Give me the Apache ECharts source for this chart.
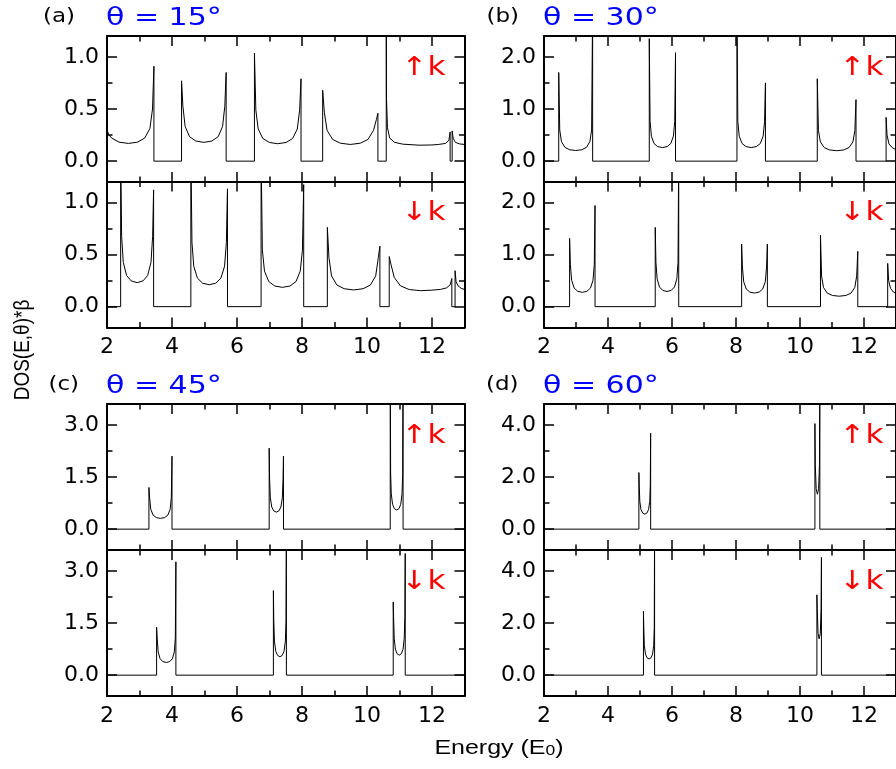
<!DOCTYPE html>
<html>
<head>
<meta charset="utf-8">
<script src="https://cdn.jsdelivr.net/npm/echarts@6/dist/echarts.min.js"></script>
<style>
html,body{margin:0;padding:0;background:#fff;}
#chart{width:896px;height:769px;}
</style>
</head>
<body>
<div id="chart"></div>
<script>
// ---- data (Energy in E0, DOS*beta) ----
const xMajorTicks = [2, 4, 6, 8, 10, 12];
const xMinorTicks = [3, 5, 7, 9, 11];
const panelLetters = ['(a)', '(b)', '(c)', '(d)'];
const panelAngles = ['θ = 15°', 'θ = 30°', 'θ = 45°', 'θ = 60°'];
const yRanges = [[-0.2, 1.2], [-0.4, 2.4], [-0.6, 3.6], [-0.8, 4.8]];
const yMajorTicks = [[0, 0.5, 1.0], [0, 1.0, 2.0], [0, 1.5, 3.0], [0, 2.0, 4.0]];
const yMinorTicks = [[0.25, 0.75], [0.5, 1.5], [0.75, 2.25], [1.0, 3.0]];

const dos15Up = [[2.0,0.30],[2.06,0.25],[2.15,0.22],[2.37,0.182],[2.66,0.17],[2.94,0.182],[3.16,0.221],[3.32,0.313],[3.40,0.50],[3.444,0.91],[3.444,0],
[4.294,0],[4.294,0.77],[4.335,0.527],[4.404,0.332],[4.541,0.234],[4.733,0.193],[4.98,0.18],[5.227,0.193],[5.419,0.234],[5.556,0.332],[5.625,0.527],[5.666,0.85],[5.666,0],
[6.537,0],[6.537,1.035],[6.58,0.489],[6.652,0.308],[6.795,0.217],[6.996,0.179],[7.254,0.167],[7.511,0.179],[7.712,0.217],[7.855,0.308],[7.927,0.489],[7.97,0.79],[7.97,0],
[8.636,0],[8.636,0.68],[8.687,0.469],[8.772,0.295],[8.942,0.208],[9.18,0.172],[9.486,0.16],[9.792,0.172],[10.03,0.208],[10.2,0.295],[10.29,0.40],[10.336,0.46],[10.336,0],
[10.592,0],[10.592,1.5],[10.60,0.6],[10.63,0.32],[10.70,0.22],[10.85,0.18],[11.1,0.163],[11.6,0.153],[12.0,0.155],[12.2,0.16],[12.42,0.17],[12.52,0.2],[12.558,0.28],[12.558,0],
[12.62,0],[12.62,0.29],[12.65,0.22],[12.72,0.18],[12.85,0.165],[13.0,0.16]];

const dos15Down = [[2.0,0],[2.42,0],[2.42,1.5],[2.45,0.674],[2.501,0.424],[2.603,0.299],[2.744,0.247],[2.927,0.23],[3.11,0.247],[3.251,0.299],[3.353,0.424],[3.404,0.674],[3.434,1.12],[3.434,0],
[4.58,0],[4.58,1.5],[4.614,0.615],[4.67,0.387],[4.783,0.273],[4.941,0.225],[5.144,0.21],[5.346,0.225],[5.504,0.273],[5.617,0.387],[5.673,0.615],[5.707,1.13],[5.707,0],
[6.741,0],[6.741,1.5],[6.78,0.542],[6.846,0.341],[6.977,0.241],[7.161,0.198],[7.397,0.185],[7.632,0.198],[7.816,0.241],[7.946,0.341],[8.013,0.542],[8.052,1.17],[8.052,0],
[8.78,0],[8.78,0.76],[8.829,0.469],[8.909,0.295],[9.071,0.208],[9.297,0.172],[9.589,0.16],[9.88,0.172],[10.106,0.208],[10.268,0.295],[10.348,0.469],[10.397,0.58],[10.397,0],
[10.684,0],[10.684,0.48],[10.742,0.40],[10.838,0.28],[11.031,0.199],[11.30,0.164],[11.647,0.153],[11.994,0.158],[12.26,0.165],[12.45,0.18],[12.56,0.21],[12.61,0.27],[12.61,0],
[12.71,0],[12.71,0.345],[12.74,0.24],[12.8,0.2],[12.9,0.175],[13.0,0.165]];

const dos30Up = [[2.0,0],[2.46,0],[2.46,1.70],[2.492,0.598],[2.545,0.376],[2.651,0.265],[2.799,0.219],[2.99,0.204],[3.181,0.219],[3.329,0.265],[3.435,0.376],[3.488,0.598],[3.52,3.0],[3.52,0],
[5.29,0],[5.29,2.35],[5.315,0.762],[5.356,0.479],[5.438,0.338],[5.552,0.279],[5.70,0.26],[5.848,0.279],[5.962,0.338],[6.044,0.479],[6.085,0.762],[6.11,2.08],[6.11,0],
[8.03,0],[8.03,3.0],[8.057,0.762],[8.101,0.479],[8.19,0.338],[8.315,0.279],[8.475,0.26],[8.635,0.279],[8.76,0.338],[8.849,0.479],[8.893,0.762],[8.92,1.50],[8.92,0],
[10.54,0],[10.54,1.58],[10.576,0.586],[10.637,0.369],[10.758,0.26],[10.927,0.214],[11.145,0.2],[11.363,0.214],[11.532,0.26],[11.653,0.369],[11.714,0.586],[11.75,1.18],[11.75,0],
[12.69,0],[12.69,0.84],[12.72,0.5],[12.78,0.33],[12.88,0.26],[13.0,0.22]];

const dos30Down = [[2.0,0],[2.80,0],[2.80,1.31],[2.824,0.803],[2.864,0.505],[2.943,0.356],[3.054,0.294],[3.198,0.274],[3.341,0.294],[3.452,0.356],[3.531,0.505],[3.571,0.803],[3.595,1.94],[3.595,0],
[5.476,0],[5.476,1.52],[5.498,0.85],[5.535,0.534],[5.608,0.377],[5.711,0.311],[5.843,0.29],[5.975,0.311],[6.078,0.377],[6.151,0.534],[6.188,0.85],[6.21,3.0],[6.21,0],
[8.176,0],[8.176,1.20],[8.2,0.762],[8.24,0.479],[8.321,0.338],[8.433,0.279],[8.578,0.26],[8.723,0.279],[8.835,0.338],[8.916,0.479],[8.956,0.762],[8.98,1.20],[8.98,0],
[10.64,0],[10.64,1.37],[10.675,0.586],[10.733,0.369],[10.85,0.26],[11.013,0.214],[11.223,0.2],[11.433,0.214],[11.596,0.26],[11.713,0.369],[11.771,0.586],[11.806,1.06],[11.806,0],
[12.74,0],[12.74,0.83],[12.77,0.5],[12.83,0.35],[12.92,0.28],[13.0,0.25]];

const dos45Up = [[2.0,0],[3.29,0],[3.29,1.20],[3.311,0.908],[3.347,0.571],[3.418,0.403],[3.517,0.332],[3.645,0.31],[3.773,0.332],[3.872,0.403],[3.943,0.571],[3.979,0.908],[4.0,2.10],[4.0,0],
[6.99,0],[6.99,2.33],[7.003,1.436],[7.025,0.903],[7.069,0.637],[7.131,0.525],[7.21,0.49],[7.289,0.525],[7.351,0.637],[7.395,0.903],[7.417,1.436],[7.43,2.10],[7.43,0],
[10.715,0],[10.715,5.0],[10.727,1.612],[10.747,1.014],[10.786,0.716],[10.841,0.59],[10.913,0.55],[10.984,0.59],[11.039,0.716],[11.078,1.014],[11.098,1.612],[11.11,5.0],[11.11,0],[13.0,0]];

const dos45Down = [[2.0,0],[3.526,0],[3.526,1.38],[3.544,1.067],[3.574,0.671],[3.633,0.474],[3.716,0.39],[3.823,0.364],[3.93,0.39],[4.013,0.474],[4.072,0.671],[4.102,1.067],[4.12,3.26],[4.12,0],
[7.12,0],[7.12,2.43],[7.132,1.553],[7.152,0.977],[7.192,0.69],[7.248,0.568],[7.32,0.53],[7.392,0.568],[7.448,0.69],[7.488,0.977],[7.508,1.553],[7.52,5.0],[7.52,0],
[10.807,0],[10.807,2.10],[10.818,1.685],[10.837,1.06],[10.873,0.748],[10.925,0.616],[10.992,0.575],[11.058,0.616],[11.11,0.748],[11.146,1.06],[11.165,1.685],[11.176,3.5],[11.176,0],[13.0,0]];

const dos60Up = [[2.0,0],[4.965,0],[4.965,2.17],[4.976,1.685],[4.994,1.06],[5.031,0.748],[5.083,0.616],[5.149,0.575],[5.215,0.616],[5.267,0.748],[5.304,1.06],[5.322,1.685],[5.333,3.68],[5.333,0],
[10.466,0],[10.466,4.05],[10.478,2.47],[10.505,1.546],[10.543,1.34],[10.582,1.546],[10.608,2.47],[10.62,6.0],[10.62,0],[13.0,0]];

const dos60Down = [[2.0,0],[5.108,0],[5.108,2.45],[5.118,1.817],[5.136,1.143],[5.171,0.807],[5.219,0.665],[5.282,0.62],[5.345,0.665],[5.393,0.807],[5.428,1.143],[5.446,1.817],[5.456,6.0],[5.456,0],
[10.528,0],[10.528,3.08],[10.539,2.56],[10.564,1.605],[10.599,1.39],[10.635,1.605],[10.659,2.56],[10.67,4.52],[10.67,0],[13.0,0]];

const curves = [dos15Up, dos15Down, dos30Up, dos30Down, dos45Up, dos45Down, dos60Up, dos60Down];
const spinLabels = ['↑k', '↓k'];

// ---- layout ----
const colLeft = [107, 544];
const colWidth = [357.5, 358.5];
const rowTops = [[36, 181.5], [404, 550]];
const gridH = 146;
const SX = 1.2; // horizontal stretch of the reference lettering

const grids = [], xAxes = [], yAxes = [], series = [], graphics = [];
const TICKW = 1.5, LINEW = 2;

function xAxis(gi, pos, ticks, len, showLine, showLabel) {
  return {
    type: 'value', gridIndex: gi, min: 2, max: 13, position: pos,
    axisLine: { show: showLine, onZero: false, lineStyle: { color: '#000', width: LINEW } },
    axisTick: { show: true, inside: true, length: len, customValues: ticks, lineStyle: { color: '#000', width: TICKW } },
    axisLabel: { show: showLabel, customValues: ticks, margin: 9, color: '#000', fontSize: 22, fontFamily: 'DejaVu Sans', formatter: v => String(v) },
    splitLine: { show: false }
  };
}
function yAxis(gi, pos, range, ticks, len, showLine, showLabel) {
  return {
    type: 'value', gridIndex: gi, min: range[0], max: range[1], position: pos,
    axisLine: { show: showLine, onZero: false, lineStyle: { color: '#000', width: LINEW } },
    axisTick: { show: true, inside: true, length: len, customValues: ticks, lineStyle: { color: '#000', width: TICKW } },
    axisLabel: { show: showLabel, customValues: ticks, margin: 8, color: '#000', fontSize: 22, fontFamily: 'DejaVu Sans', formatter: v => v.toFixed(1) },
    splitLine: { show: false }
  };
}

for (let p = 0; p < 4; p++) {
  const col = p % 2, row = Math.floor(p / 2);
  for (let s = 0; s < 2; s++) {
    const gi = p * 2 + s;
    const top = rowTops[row][s];
    grids.push({ left: colLeft[col], top: top, width: colWidth[col], height: gridH });
    xAxes.push(xAxis(gi, 'bottom', xMajorTicks, 10, true, s === 1));
    xAxes.push(xAxis(gi, 'bottom', xMinorTicks, 5.5, false, false));
    xAxes.push(xAxis(gi, 'top', xMajorTicks, 10, true, false));
    xAxes.push(xAxis(gi, 'top', xMinorTicks, 5.5, false, false));
    yAxes.push(yAxis(gi, 'left', yRanges[p], yMajorTicks[p], 10, true, true));
    yAxes.push(yAxis(gi, 'left', yRanges[p], yMinorTicks[p], 5.5, false, false));
    yAxes.push(yAxis(gi, 'right', yRanges[p], yMajorTicks[p], 10, true, false));
    yAxes.push(yAxis(gi, 'right', yRanges[p], yMinorTicks[p], 5.5, false, false));
    series.push({
      type: 'line', xAxisIndex: gi * 4, yAxisIndex: gi * 4, data: curves[gi],
      showSymbol: false, symbol: 'none', clip: true, silent: true,
      lineStyle: { color: '#000', width: 1 }, z: 1
    });
    graphics.push({
      type: 'text', z: 100, x: colLeft[col] + colWidth[col] - 19, y: top + 32, scaleX: SX,
      style: { text: spinLabels[s], x: 0, y: 0,
        fill: '#ff0000', font: '26px "DejaVu Sans"', textAlign: 'right', textVerticalAlign: 'middle' }
    });
  }
  const titleY = row === 0 ? 18 : 386;
  graphics.push({
    type: 'text', z: 100, x: [43, 486.5, 48.5, 486][p], y: titleY - 1, scaleX: 1.15,
    style: { text: panelLetters[p], x: 0, y: 0,
      fill: '#000', font: '20px "DejaVu Sans"', textAlign: 'left', textVerticalAlign: 'middle' }
  });
  graphics.push({
    type: 'text', z: 100, x: colLeft[col] - 1, y: titleY, scaleX: SX,
    style: { text: panelAngles[p], x: 0, y: 0,
      fill: '#0000ff', font: '25px "DejaVu Sans"', textAlign: 'left', textVerticalAlign: 'middle' }
  });
}

graphics.push({
  type: 'text', z: 100, rotation: Math.PI / 2, x: 23, y: 350, scaleY: SX,
  style: { text: 'DOS(E,θ)*β', x: 0, y: 0, fill: '#000', font: '19px "Liberation Sans"',
    textAlign: 'center', textVerticalAlign: 'middle' }
});
graphics.push({
  type: 'text', z: 100, x: 499, y: 748, scaleX: 1.25,
  style: { text: 'Energy (E{s|0})', x: 0, y: 0, fill: '#000', font: '20px "Liberation Sans"',
    textAlign: 'center', textVerticalAlign: 'middle',
    rich: { s: { fontSize: 14, fontFamily: 'Liberation Sans', lineHeight: 12, verticalAlign: 'bottom', fill: '#000' } } }
});

const chart = echarts.init(document.getElementById('chart'), null, { renderer: 'canvas' });
chart.setOption({
  animation: false,
  backgroundColor: '#fff',
  grid: grids,
  xAxis: xAxes,
  yAxis: yAxes,
  series: series,
  graphic: { elements: graphics }
});
</script>
</body>
</html>
